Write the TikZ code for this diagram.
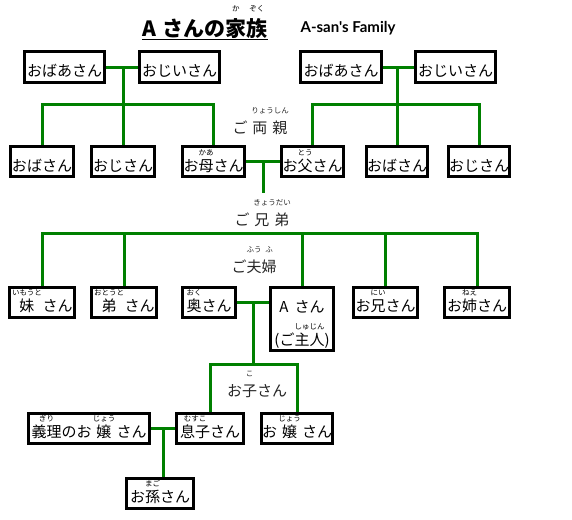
\documentclass[tikz,border=0pt]{standalone}
\usepackage{fontspec}
\setmainfont{Noto Sans CJK JP}
\newfontfamily\latin{Lato}
\usetikzlibrary{calc}
\definecolor{linkgreen}{RGB}{0,128,0}
\newcommand{\rubyfont}{\mdseries\fontsize{7.5}{8}\selectfont}
\newcommand{\furi}[3][1.05em]{\leavevmode\ooalign{#2\cr\hidewidth\raisebox{#1}[0pt][0pt]{\rubyfont #3}\hidewidth\cr}}
\newcommand{\kgap}{\hspace{5pt}}
\tikzset{
  kin/.style={draw, line width=3pt, inner sep=0pt, minimum width=#1, text height=24.5pt, text depth=5.5pt, font=\fontsize{15}{18}\selectfont},
  lbl/.style={inner sep=0pt, anchor=base, font=\fontsize{15}{18}\selectfont, text=black!85},
  link/.style={linkgreen, line width=3pt}
}
\begin{document}
\begin{tikzpicture}[x=1pt, y=-1pt]
\useasboundingbox (0,0) rectangle (572,519);
\node[inner sep=0pt, anchor=base, font=\bfseries\fontsize{21}{24}\selectfont] (ttl) at (205,37) {A\hspace{6pt}さんの\furi[1.2em]{家}{か}\furi[1.2em]{族}{ぞく}};
\draw[line width=1.2pt] ([yshift=-2.5pt]ttl.base west) -- ([yshift=-2.5pt]ttl.base east);
\node[inner sep=0pt, anchor=base, font=\latin\bfseries\fontsize{15}{18}\selectfont] (eng) at (348,33) {A-san's Family};
\node[kin=80pt] (mem0) at (64.5,67) {おばあさん};
\node[kin=80pt] (mem1) at (179.5,67) {おじいさん};
\node[kin=81pt] (mem2) at (341,67) {おばあさん};
\node[kin=80pt] (mem3) at (455.5,67) {おじいさん};
\node[lbl] (lbl0) at (260,133) {ご\kgap{}\furi[1.33em]{両\kgap{}親}{りょうしん}};
\node[kin=63pt] (mem4) at (42,161.5) {おばさん};
\node[kin=63pt] (mem5) at (123,161.5) {おじさん};
\node[kin=62pt] (mem6) at (213.5,161.5) {お\furi{母}{かあ}さん};
\node[kin=62pt] (mem7) at (312.5,161.5) {お\furi{父}{とう}さん};
\node[kin=61pt] (mem8) at (397,161.5) {おばさん};
\node[kin=61pt] (mem9) at (479,161.5) {おじさん};
\node[lbl] (lbl1) at (262,225) {ご\kgap{}\furi[1.33em]{兄\kgap{}弟}{きょうだい}};
\node[lbl] (lbl2) at (254,272) {ご\furi[1.33em]{夫}{ふう}\furi[1.33em]{婦}{ふ}};
\node[kin=65pt] (mem10) at (42,302) {\hspace{8pt}\furi{妹}{いもうと}\hspace{8pt}さん};
\node[kin=65pt] (mem11) at (124,302) {\hspace{8pt}\furi{弟}{おとうと}\hspace{8pt}さん};
\node[kin=53pt] (mem12) at (209,302) {\furi{奥}{おく}さん};
\node[kin=63pt, text depth=38.5pt] (mem13) at (302,319) {\begin{tabular}[t]{@{}c@{}}A\hspace{6pt}さん\\[15pt](ご\furi{主人}{しゅじん})\end{tabular}};
\node[kin=64pt] (mem14) at (385.5,302) {お\furi{兄}{にい}さん};
\node[kin=65pt] (mem15) at (477,302) {お\furi{姉}{ねえ}さん};
\node[lbl] (lbl3) at (257,396) {お\furi[1.33em]{子}{こ}さん};
\node[kin=121pt] (mem16) at (89,428) {\furi{義理}{ぎり}のお\kgap{}\furi{嬢}{じょう}\kgap{}さん};
\node[kin=67pt] (mem17) at (210,428) {\furi{息子}{むすこ}さん};
\node[kin=71pt] (mem18) at (297,428) {お\kgap{}\furi{嬢}{じょう}\kgap{}さん};
\node[kin=67pt] (mem19) at (160,493) {お\furi{孫}{まご}さん};
\coordinate (j0) at (mem5.north |- mem0.east);
\coordinate (b0) at (123,104);
\draw[link](mem0) -- (mem1);
\draw[link](j0) -- (mem5.north);
\draw[link](mem4.north) |- (b0) -| (mem6.north);
\coordinate (j1) at (mem8.north |- mem2.east);
\coordinate (b1) at (397,104);
\draw[link](mem2) -- (mem3);
\draw[link](j1) -- (mem8.north);
\draw[link](mem7.north) |- (b1) -| (mem9.north);
\coordinate (j2) at ($(mem6.east)!.5!(mem7.west)$);
\coordinate (k0) at (j2 |- 0,193);
\draw[link](mem6) -- (mem7);
\draw[link](j2) -- (k0);
\coordinate (b2) at (263,233);
\draw[link](mem10.north) |- (b2) -| (mem15.north);
\draw[link](mem11.north) -- (mem11.north |- b2);
\draw[link](mem13.north) -- (mem13.north |- b2);
\draw[link](mem14.north) -- (mem14.north |- b2);
\coordinate (j3) at ($(mem12.east)!.5!(mem12.east -| mem13.west)$);
\coordinate (b3) at (j3 |- 0,364);
\draw[link](mem12.east) -- (mem12.east -| mem13.west);
\draw[link](j3) -- (b3);
\draw[link](mem17.north) |- (b3) -| (mem18.north);
\coordinate (j4) at ($(mem16.east)!.5!(mem17.west)$);
\draw[link](mem16) -- (mem17);
\draw[link](j4) -- (j4 |- mem19.north);
\end{tikzpicture}
\end{document}
